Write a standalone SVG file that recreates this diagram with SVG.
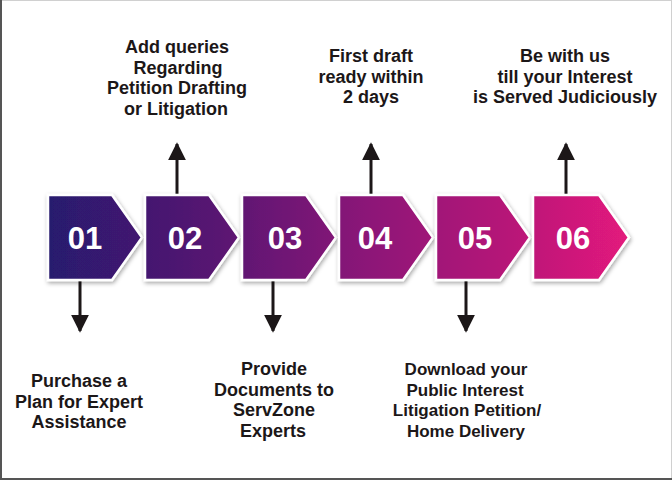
<svg xmlns="http://www.w3.org/2000/svg" width="672" height="480" viewBox="0 0 672 480">
<defs>
<linearGradient id="grad" gradientUnits="userSpaceOnUse" x1="48" y1="0" x2="629" y2="0">
<stop offset="0" stop-color="#271a6e"/>
<stop offset="0.3" stop-color="#5a1872"/>
<stop offset="0.55" stop-color="#8c1578"/>
<stop offset="0.8" stop-color="#b81778"/>
<stop offset="1" stop-color="#e31a7c"/>
</linearGradient>
<filter id="sh" x="-20%" y="-20%" width="140%" height="140%">
<feDropShadow dx="1" dy="2" stdDeviation="2" flood-color="#000" flood-opacity="0.35"/>
</filter>
<marker id="ah" viewBox="0 0 10 10" refX="9" refY="5" markerWidth="6" markerHeight="7" markerUnits="strokeWidth" orient="auto">
<path d="M0,0 L10,5 L0,10 z" fill="#1c1718"/>
</marker>
</defs>
<style>
.chev{fill:url(#grad);stroke:#fff;stroke-width:2.5;stroke-linejoin:miter;filter:url(#sh)}
.num{font-family:"Liberation Sans",Arial,sans-serif;font-weight:bold;font-size:31px;fill:#fff;text-anchor:middle}
.lbl{font-family:"Liberation Sans",Arial,sans-serif;font-weight:bold;font-size:18px;fill:#1c1718;text-anchor:middle}
.sm{font-size:17px}
.con{stroke:#1c1718;stroke-width:3;fill:none;marker-end:url(#ah)}
</style>
<rect x="0" y="0" width="672" height="480" fill="#fff"/>
<line x1="0" y1="0.5" x2="672" y2="0.5" stroke="#d0d0d0" stroke-width="1"/>
<line x1="671.5" y1="0" x2="671.5" y2="480" stroke="#d0d0d0" stroke-width="1"/>
<line x1="1" y1="0" x2="1" y2="480" stroke="#555" stroke-width="2"/>
<line x1="0" y1="479" x2="672" y2="479" stroke="#555" stroke-width="2"/>

<g id="connectors">
<line class="con" x1="80" y1="281" x2="80" y2="331"/>
<line class="con" x1="177" y1="194" x2="177" y2="144"/>
<line class="con" x1="273" y1="281" x2="273" y2="331"/>
<line class="con" x1="371" y1="194" x2="371" y2="144"/>
<line class="con" x1="466" y1="281" x2="466" y2="331"/>
<line class="con" x1="566" y1="194" x2="566" y2="144"/>
</g>

<g id="step01">
<path class="chev" d="M48,195 H112 L142,237.5 L112,280 H48 Z"/>
<text class="num" x="85" y="249">01</text>
</g>
<g id="step02">
<path class="chev" d="M145,195 H209 L239,237.5 L209,280 H145 Z"/>
<text class="num" x="185" y="249">02</text>
</g>
<g id="step03">
<path class="chev" d="M242,195 H306 L336,237.5 L306,280 H242 Z"/>
<text class="num" x="285" y="249">03</text>
</g>
<g id="step04">
<path class="chev" d="M339,195 H403 L433,237.5 L403,280 H339 Z"/>
<text class="num" x="375" y="249">04</text>
</g>
<g id="step05">
<path class="chev" d="M436,195 H500 L530,237.5 L500,280 H436 Z"/>
<text class="num" x="475" y="249">05</text>
</g>
<g id="step06">
<path class="chev" d="M533,195 H599 L629,237.5 L599,280 H533 Z"/>
<text class="num" x="573" y="249">06</text>
</g>

<g id="label01">
<text class="lbl" x="79" y="387">Purchase a</text>
<text class="lbl" x="79" y="407.5">Plan for Expert</text>
<text class="lbl" x="79" y="428">Assistance</text>
</g>
<g id="label02">
<text class="lbl" x="177" y="53">Add queries</text>
<text class="lbl" x="178" y="73.5">Regarding</text>
<text class="lbl" x="177" y="94">Petition Drafting</text>
<text class="lbl" x="176" y="114.5">or Litigation</text>
</g>
<g id="label03">
<text class="lbl" x="274" y="375">Provide</text>
<text class="lbl" x="274" y="395.5">Documents to</text>
<text class="lbl" x="274" y="416">ServZone</text>
<text class="lbl" x="273" y="436.5">Experts</text>
</g>
<g id="label04">
<text class="lbl" x="371" y="62">First draft</text>
<text class="lbl" x="371" y="82.5">ready within</text>
<text class="lbl" x="371" y="103">2 days</text>
</g>
<g id="label05">
<text class="lbl sm" x="466" y="375">Download your</text>
<text class="lbl sm" x="465" y="395.5">Public Interest</text>
<text class="lbl sm" x="467" y="416">Litigation Petition/</text>
<text class="lbl sm" x="466" y="436.5">Home Delivery</text>
</g>
<g id="label06">
<text class="lbl" x="565" y="62">Be with us</text>
<text class="lbl" x="565" y="82.5">till your Interest</text>
<text class="lbl" x="565" y="103">is Served Judiciously</text>
</g>
</svg>
